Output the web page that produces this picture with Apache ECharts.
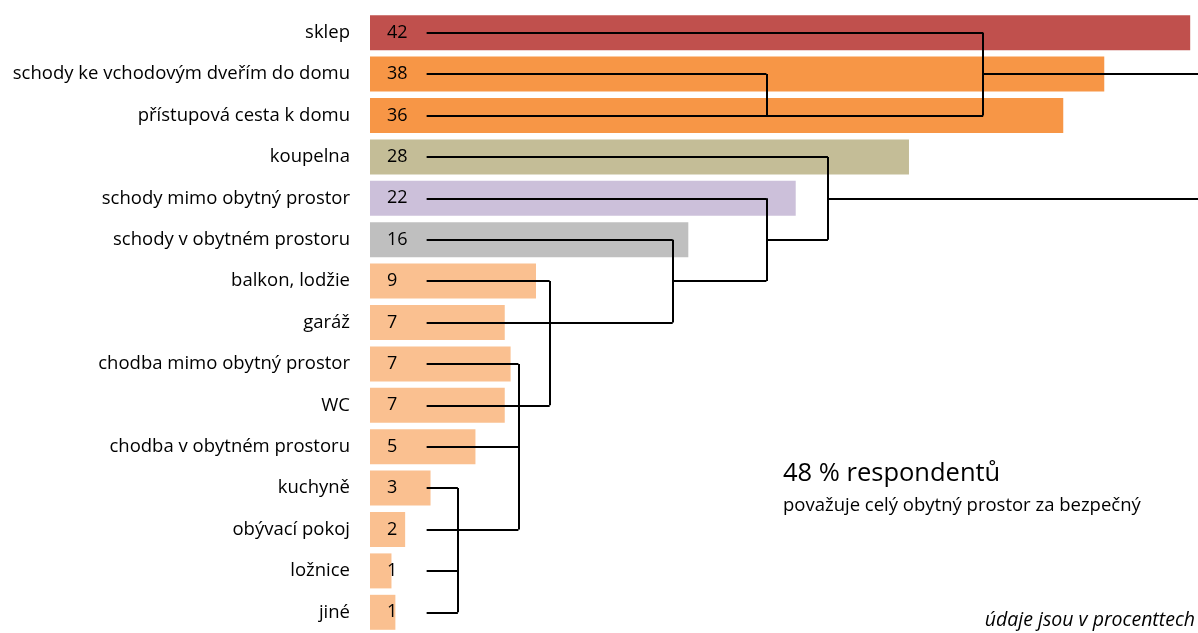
<!DOCTYPE html>
<html>
<head>
<meta charset="utf-8">
<script src="https://cdn.jsdelivr.net/npm/echarts@6/dist/echarts.min.js"></script>
<style>
  html, body { margin: 0; padding: 0; background: #fff; }
  #main { width: 1198px; height: 633px; }
</style>
</head>
<body>
<div id="main"></div>
<script>
// místa, kde se respondenti necítí bezpečně
const places = ['sklep', 'schody ke vchodovým dveřím do domu', 'přístupová cesta k domu', 'koupelna',
  'schody mimo obytný prostor', 'schody v obytném prostoru', 'balkon, lodžie', 'garáž',
  'chodba mimo obytný prostor', 'WC', 'chodba v obytném prostoru', 'kuchyně', 'obývací pokoj',
  'ložnice', 'jiné'];
const shares = [42, 37.6, 35.5, 27.6, 21.8, 16.3, 8.5, 6.9, 7.2, 6.9, 5.4, 3.1, 1.8, 1.1, 1.3];
const barColors = ['#C0504D', '#F79646', '#F79646', '#C4BD97', '#CCC0DA', '#BFBFBF',
  '#FAC090', '#FAC090', '#FAC090', '#FAC090', '#FAC090', '#FAC090', '#FAC090', '#FAC090', '#FAC090'];

// shluky (dendrogram) – vodorovné úseky [řádek, od, do], svislé [x, řádek, řádek]
const LINK_START = 2.9;
const AXIS_MAX = 42.4;
const hLinks = [
  [0, LINK_START, 31.4], [1, LINK_START, 20.3], [2, LINK_START, 31.4], [1, 31.4, AXIS_MAX],
  [3, LINK_START, 23.45], [4, LINK_START, 20.3], [5, LINK_START, 15.5], [7, LINK_START, 15.5],
  [6, 15.5, 20.3], [5, 20.3, 23.45], [4, 23.45, AXIS_MAX],
  [6, LINK_START, 9.2], [9, LINK_START, 9.2],
  [8, LINK_START, 7.6], [10, LINK_START, 7.6], [12, LINK_START, 7.6],
  [11, LINK_START, 4.5], [13, LINK_START, 4.5], [14, LINK_START, 4.5]
];
const vLinks = [
  [20.3, 1, 2], [31.4, 0, 2], [15.5, 5, 7], [20.3, 4, 6], [23.45, 3, 5],
  [9.2, 6, 9], [7.6, 8, 12], [4.5, 11, 14]
];

const FONT = '"Open Sans"';

let linkData = hLinks.map(s => ({ coords: [[s[1], s[0]], [s[2], s[0]]] }))
  .concat(vLinks.map(s => ({ coords: [[s[0], s[1]], [s[0], s[2]]] })));

let chart = echarts.init(document.getElementById('main'));
chart.setOption({
  animation: false,
  grid: { left: 370, right: 0, top: 12, bottom: -1, containLabel: false },
  xAxis: {
    type: 'value', min: 0, max: AXIS_MAX, show: false
  },
  yAxis: {
    type: 'category',
    data: places,
    inverse: true,
    axisLine: { show: false },
    axisTick: { show: false },
    axisLabel: { color: '#000', fontFamily: FONT, fontSize: 18.5, margin: 20 }
  },
  series: [
    {
      type: 'bar',
      barWidth: 35,
      data: shares.map((v, i) => ({ value: v, itemStyle: { color: barColors[i] } })),
      label: {
        show: true,
        position: 'insideLeft',
        distance: 17,
        color: '#000',
        fontFamily: FONT,
        fontSize: 18,
        formatter: p => Math.round(p.value)
      },
      z: 2
    },
    {
      type: 'lines',
      coordinateSystem: 'cartesian2d',
      data: linkData,
      lineStyle: { color: '#000', width: 2, opacity: 1 },
      z: 5
    }
  ],
  graphic: [
    {
      type: 'text', left: 783, top: 461,
      style: { text: '48 % respondentů', font: '25.5px ' + FONT, fill: '#000' }
    },
    {
      type: 'text', left: 783, top: 496,
      style: { text: 'považuje celý obytný prostor za bezpečný', font: '18.5px ' + FONT, fill: '#000' }
    },
    {
      type: 'text', right: 3, top: 610,
      style: { text: 'údaje jsou v procenttech', font: 'italic 19.5px ' + FONT, fill: '#000' }
    }
  ]
});
</script>
</body>
</html>
